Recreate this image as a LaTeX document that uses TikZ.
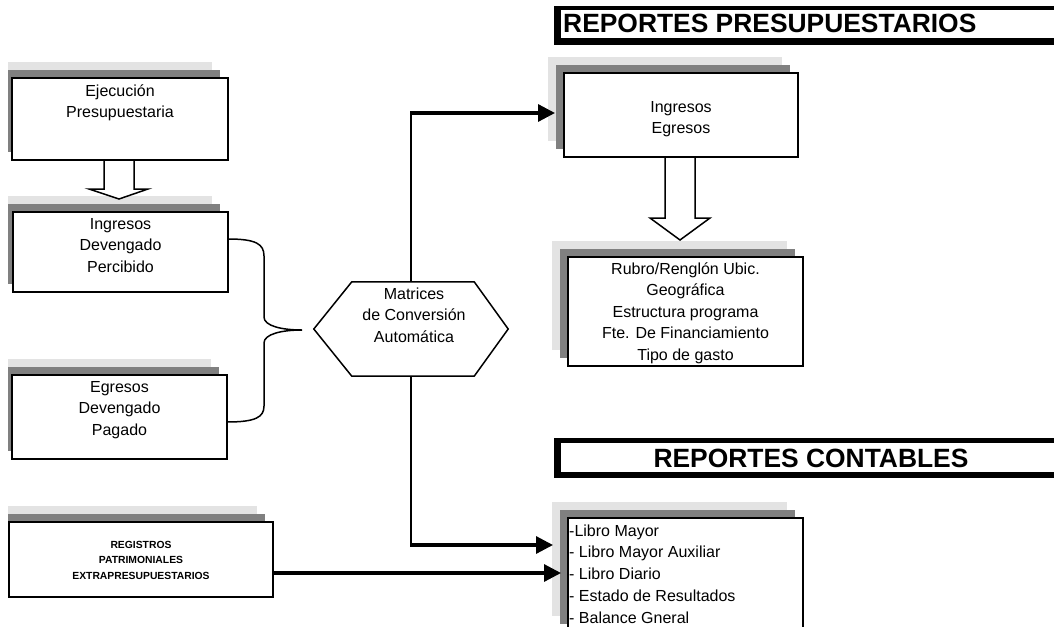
\documentclass[tikz,border=0pt]{standalone}
\usepackage{fontspec}
\setmainfont{Liberation Sans}
\usetikzlibrary{arrows.meta,calc}

\definecolor{shadelight}{RGB}{227,227,227}
\definecolor{shadedark}{RGB}{128,128,128}

\tikzset{
  panel/.style={draw=black, fill=white, line width=1.5pt, inner sep=0pt, outer sep=0pt, anchor=north west},
  boxtext/.style={font=\fontsize{16}{21.5}\selectfont, align=center, inner sep=0pt, anchor=north},
  listtext/.style={font=\fontsize{16}{21.7}\selectfont, align=left, inner sep=0pt, anchor=north west},
  smallbold/.style={font=\fontsize{10.35}{15.5}\selectfont\bfseries, align=center, inner sep=0pt, anchor=north},
  titletext/.style={font=\fontsize{26.4}{30}\selectfont\bfseries, inner sep=0pt},
  vline/.style={line width=1.5pt},
  harrow/.style={line width=3.2pt, -{Triangle[length=17pt,width=17pt]}},
  brace/.style={line width=1.5pt},
  blockarrow/.style={draw=black, fill=white, line width=1.5pt, line join=miter},
}

% first-line strut so that every text block starts 15pt above its first baseline
\newcommand\firstline{\rule{0pt}{15pt}}
\newcommand\firstsmall{\rule{0pt}{10pt}}

% white box with two stacked grey layers behind it (name, x0, y0, x1, y1)
\newcommand\layeredbox[5]{%
  \fill[shadelight] (#2-16,#3-16) rectangle (#4-16,#5-16);
  \fill[shadedark] (#2-8,#3-8) rectangle (#4-8,#5-8);
  \node[panel, minimum width={#4-#2}, minimum height={#5-#3}] (#1) at (#2,#3) {};
}

\begin{document}
\begin{tikzpicture}[x=1pt,y=-1pt]
\useasboundingbox (0,0) rectangle (1054,626);
\clip (0,0) rectangle (1054,626);
\fill[white] (0,0) rectangle (1054,626);

% ---- section titles ----
\fill[black] (554,6) rectangle (1060,45);
\fill[white] (561,10) rectangle (1060,38);
\node[titletext, anchor=base west] (title1) at (563,33) {REPORTES PRESUPUESTARIOS};

\fill[black] (554,438) rectangle (1060,478);
\fill[white] (561,443) rectangle (1060,472);
\node[titletext, anchor=base] (title2) at (811,467) {REPORTES CONTABLES};

% ---- left column ----
\begin{scope}
  \clip (8,0) rectangle (540,626);
  \layeredbox{b1}{12}{78}{228}{160}
  \layeredbox{b2}{13}{212}{228}{292}
  \layeredbox{b3}{12}{375}{227}{459}
  \layeredbox{b4}{9}{522}{273}{597}
\end{scope}

\node[boxtext] (b1t) at (120,81) {\firstline Ejecución\\Presupuestaria};
\node[boxtext] (b2t) at (120.5,214) {\firstline Ingresos\\Devengado\\Percibido};
\node[boxtext] (b3t) at (119.5,377) {\firstline Egresos\\Devengado\\Pagado};
\node[smallbold] (b4t) at (141,538) {\firstsmall REGISTROS\\PATRIMONIALES\\EXTRAPRESUPUESTARIOS};

% ---- right column ----
\layeredbox{b5}{564}{73}{798}{157}
\layeredbox{b6}{568}{257}{803}{366}
\layeredbox{b7}{568}{518}{803}{632}

\node[boxtext] (b5t) at (681,97) {\firstline Ingresos\\Egresos};
\node[boxtext] (b6t) at (685.5,259) {\firstline Rubro/Renglón Ubic.\\Geográfica\\Estructura programa\\Fte. De Financiamiento\\Tipo de gasto};
\node[listtext] (b7t) at (569,521) {\firstline -Libro Mayor\\- Libro Mayor Auxiliar\\- Libro Diario\\- Estado de Resultados\\- Balance Gneral};

% ---- conversion hexagon ----
\node[inner sep=0pt, minimum width=194, minimum height=94] (hex) at (411,329) {};
\draw[line width=1.5pt, line join=miter]
  (hex.west) -- ($(hex.north west)+(38,0)$) -- ($(hex.north east)+(-34,0)$) -- (hex.east)
  -- ($(hex.south east)+(-34,0)$) -- ($(hex.south west)+(38,0)$) -- cycle;
\node[boxtext] (hext) at (414,284) {\firstline Matrices\\de Conversión\\Automática};

% ---- block arrows ----
\draw[blockarrow] (104,160) -- (104,189) -- (89,189) -- (119,199) -- (148,189) -- (134,189) -- (134,160) -- cycle;
\draw[blockarrow] (665,157) -- (665,218) -- (650,218) -- (680,240) -- (710,218) -- (695,218) -- (695,157) -- cycle;

% ---- brace joining the two ledgers ----
\coordinate (bt) at (302,330);
\draw[brace] ($(b2.north east)+(0,27)$) .. controls (256,239) and (264,244) .. (264,256)
  -- (264,317) .. controls (264,326) and (282,330) .. (bt)
  .. controls (282,330) and (264,334) .. (264,343)
  -- (264,406) .. controls (264,417) and (256,422) .. ($(b3.north east)+(0,47)$);

% ---- connectors ----
\coordinate (tip1) at (555,113);
\coordinate (tip2) at (553,545);
\coordinate (tip3) at (561,573);
\draw[vline] (hex.north) -- (hex.north |- tip1);
\draw[harrow] ($(hex.north |- tip1)+(-0.75,0)$) -- (tip1);
\draw[vline] (hex.south) -- (hex.south |- tip2);
\draw[harrow] ($(hex.south |- tip2)+(-0.75,0)$) -- (tip2);
\draw[harrow] (b4.east |- tip3) -- (tip3);
\end{tikzpicture}
\end{document}
